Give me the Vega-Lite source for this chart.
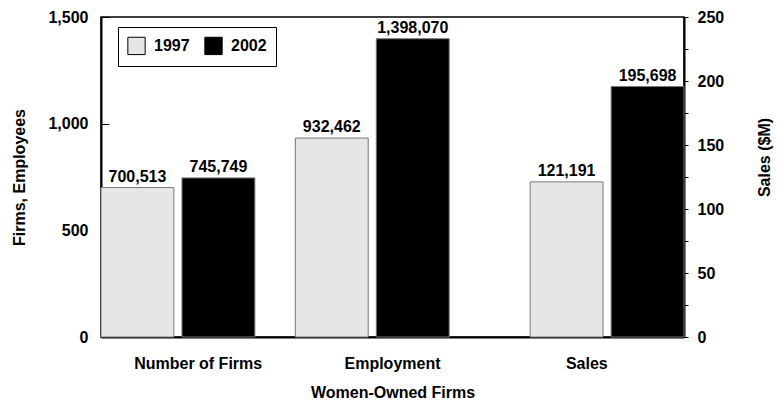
{
  "$schema": "https://vega.github.io/schema/vega-lite/v6.json",
  "width": 583,
  "height": 320,
  "autosize": {"type": "none"},
  "padding": {"left": 101, "top": 17, "right": 93, "bottom": 69},
  "background": "white",
  "config": {
    "font": "Liberation Sans",
    "view": {"stroke": "black", "strokeWidth": 1.5},
    "axis": {"labelFont": "Liberation Sans", "titleFont": "Liberation Sans", "labelFontWeight": "bold", "titleFontWeight": "bold", "labelFontSize": 16, "titleFontSize": 16, "labelColor": "black", "titleColor": "black", "domainColor": "black", "tickColor": "black", "grid": false},
    "legend": {"labelFont": "Liberation Sans", "labelFontWeight": "bold", "labelFontSize": 16, "labelColor": "black"}
  },
  "data": {
    "values": [
      {"measure": "Number of Firms", "year": "1997", "value": 700513},
      {"measure": "Number of Firms", "year": "2002", "value": 745749},
      {"measure": "Employment", "year": "1997", "value": 932462},
      {"measure": "Employment", "year": "2002", "value": 1398070},
      {"measure": "Sales", "year": "1997", "value": 121191},
      {"measure": "Sales", "year": "2002", "value": 195698}
    ]
  },
  "encoding": {
    "x": {
      "field": "measure", "type": "nominal",
      "scale": {"domain": ["Number of Firms", "Employment", "Sales"], "paddingInner": 0, "paddingOuter": 0},
      "axis": {"title": "Women-Owned Firms", "labelAngle": 0, "ticks": false, "labelPadding": 18, "titlePadding": 13, "domainWidth": 2}
    },
    "color": {
      "field": "year", "type": "nominal",
      "scale": {"domain": ["1997", "2002"], "range": ["#e6e6e6", "#000000"]},
      "legend": {"title": null, "orient": "none", "legendX": 17, "legendY": 10, "direction": "horizontal", "strokeColor": "black", "padding": 9, "symbolType": "square", "symbolSize": 300, "symbolStrokeColor": "black", "symbolStrokeWidth": 1, "columnPadding": 12, "labelOffset": 8}
    }
  },
  "layer": [
    {
      "transform": [{"filter": "datum.measure != 'Sales'"}],
      "encoding": {
        "xOffset": {"field": "year", "type": "nominal", "scale": {"domain": ["1997", "2002"], "paddingInner": 0.1, "paddingOuter": 0.25, "align": 0}},
        "y": {
          "field": "value", "type": "quantitative",
          "scale": {"domain": [0, 1500000], "nice": false},
          "axis": {"title": "Firms, Employees", "orient": "left", "values": [0, 500000, 1000000, 1500000], "labelExpr": "format(datum.value/1000, ',')", "tickSize": -8, "labelPadding": 21, "domainWidth": 2, "titleAngle": -90, "titleX": -82, "titleY": 160, "titleBaseline": "middle", "titleAlign": "center"}
        }
      },
      "layer": [
        {"mark": {"type": "bar", "stroke": "#777777", "strokeWidth": 1}},
        {"mark": {"type": "text", "baseline": "bottom", "dy": -3, "fontSize": 16, "fontWeight": "bold", "font": "Liberation Sans", "color": "black"}, "encoding": {"text": {"field": "value", "type": "quantitative", "format": ","}, "color": {"value": "black"}}}
      ]
    },
    {
      "transform": [{"filter": "datum.measure == 'Sales'"}],
      "encoding": {
        "xOffset": {"field": "year", "type": "nominal", "scale": {"domain": ["1997", "2002"], "paddingInner": 0.1, "paddingOuter": 0.25, "align": 1}},
        "y": {
          "field": "value", "type": "quantitative",
          "scale": {"domain": [0, 250000], "nice": false},
          "axis": {"title": "Sales ($M)", "orient": "right", "values": [0, 25000, 50000, 75000, 100000, 125000, 150000, 175000, 200000, 225000, 250000], "labelExpr": "datum.value % 50000 == 0 ? format(datum.value/1000, ',') : ''", "tickSize": 4, "labelPadding": 9, "domainWidth": 2, "titleAngle": -90, "titleX": 80, "titleY": 140, "titleBaseline": "middle", "titleAlign": "center"}
        }
      },
      "layer": [
        {"mark": {"type": "bar", "stroke": "#777777", "strokeWidth": 1}},
        {"mark": {"type": "text", "baseline": "bottom", "dy": -3, "fontSize": 16, "fontWeight": "bold", "font": "Liberation Sans", "color": "black"}, "encoding": {"text": {"field": "value", "type": "quantitative", "format": ","}, "color": {"value": "black"}}}
      ]
    }
  ],
  "resolve": {"scale": {"y": "independent", "xOffset": "independent"}}
}
